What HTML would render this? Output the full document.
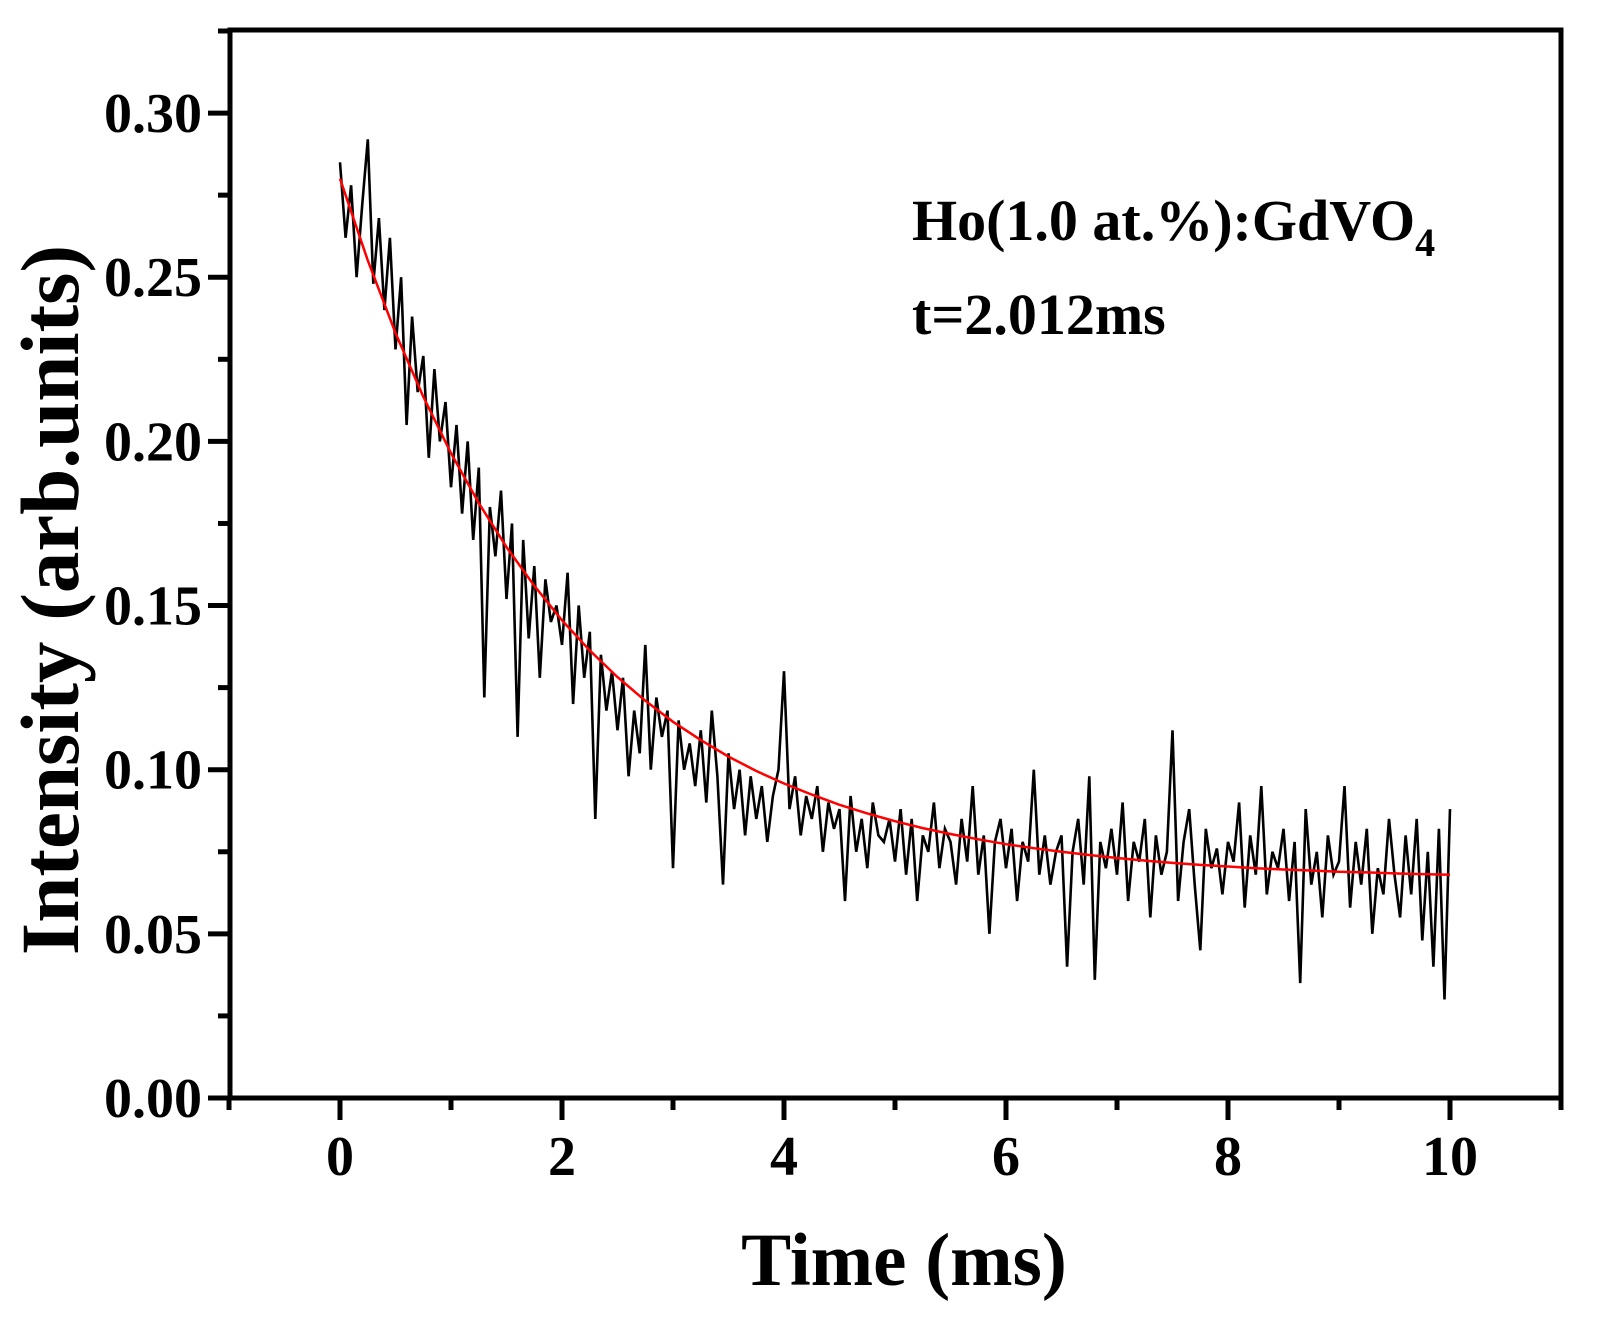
<!DOCTYPE html>
<html><head><meta charset="utf-8"><style>
html,body{margin:0;padding:0;background:#fff;}
svg text{font-family:"Liberation Serif",serif;font-weight:bold;fill:#000;}
</style></head><body>
<svg id="chart" width="1599" height="1316" viewBox="0 0 1599 1316" xmlns="http://www.w3.org/2000/svg">
<rect x="0" y="0" width="1599" height="1316" fill="#fff"/>
<g id="axes"></g>
<g id="series"></g>
<rect x="230" y="30" width="1331" height="1068" fill="none" stroke="#000" stroke-width="5"/>
<text x="904" y="1285" font-size="75" text-anchor="middle">Time (ms)</text>
<text transform="translate(78,600) rotate(-90)" font-size="83" text-anchor="middle">Intensity (arb.units)</text>
<text x="912" y="240" font-size="58">Ho(1.0 at.%):GdVO<tspan font-size="40" dy="16">4</tspan></text>
<text x="912" y="334" font-size="58">t=2.012ms</text>
</svg>
<script>
const xTicks=[0,2,4,6,8,10];
const yTicks=[0.00,0.05,0.10,0.15,0.20,0.25,0.30];
const yTickLabels=["0.00","0.05","0.10","0.15","0.20","0.25","0.30"];
const dataStep=0.05;
const dataValues=[
0.285,0.262,0.278,0.250,0.272,0.292,0.248,0.268,0.240,0.262,
0.228,0.250,0.205,0.238,0.215,0.226,0.195,0.222,0.200,0.212,
0.186,0.205,0.178,0.200,0.170,0.192,0.122,0.180,0.165,0.185,
0.152,0.175,0.110,0.170,0.140,0.162,0.128,0.158,0.145,0.150,
0.138,0.160,0.120,0.150,0.128,0.142,0.085,0.135,0.118,0.130,
0.112,0.128,0.098,0.118,0.105,0.138,0.100,0.122,0.110,0.118,
0.070,0.115,0.100,0.108,0.095,0.112,0.090,0.118,0.098,0.065,
0.105,0.088,0.100,0.080,0.098,0.085,0.095,0.078,0.092,0.100,
0.130,0.088,0.098,0.080,0.092,0.085,0.095,0.075,0.090,0.082,
0.088,0.060,0.092,0.075,0.085,0.070,0.090,0.080,0.078,0.085,
0.072,0.088,0.068,0.085,0.060,0.080,0.075,0.090,0.070,0.082,
0.078,0.065,0.085,0.072,0.095,0.068,0.080,0.050,0.078,0.085,
0.070,0.082,0.060,0.078,0.072,0.100,0.068,0.080,0.065,0.075,
0.080,0.040,0.075,0.085,0.065,0.098,0.036,0.078,0.070,0.082,
0.068,0.090,0.060,0.078,0.072,0.085,0.055,0.080,0.068,0.075,
0.112,0.060,0.078,0.088,0.065,0.045,0.082,0.070,0.076,0.062,
0.078,0.072,0.090,0.058,0.080,0.068,0.095,0.062,0.075,0.070,
0.082,0.060,0.078,0.035,0.088,0.065,0.075,0.055,0.080,0.068,
0.072,0.095,0.058,0.078,0.065,0.082,0.050,0.070,0.062,0.085,
0.068,0.055,0.080,0.062,0.085,0.048,0.075,0.040,0.082,0.030,
0.088];
const fitStep=0.25;
const fitValues=[0.2800,0.2551,0.2330,0.2136,0.1964,0.1812,0.1678,0.1560,0.1455,0.1363,0.1282,0.1210,0.1146,0.1090,0.1040,0.0996,0.0958,0.0924,0.0893,0.0867,0.0843,0.0822,0.0804,0.0788,0.0773,0.0761,0.0750,0.0740,0.0731,0.0723,0.0716,0.0710,0.0705,0.0700,0.0696,0.0693,0.0689,0.0687,0.0684,0.0682,0.0680];

const NS="http://www.w3.org/2000/svg";
const X0=229,X1=1561,XMIN=-1,XMAX=11;
const YB=1098,YT=30,YMIN=0,YMAX=0.3253;
function xs(v){return X0+(v-XMIN)/(XMAX-XMIN)*(X1-X0);}
function ys(v){return YB-(v-YMIN)/(YMAX-YMIN)*(YB-YT);}
const axes=document.getElementById('axes');
const series=document.getElementById('series');
function mk(tag,attrs,parent){const e=document.createElementNS(NS,tag);for(const k in attrs)e.setAttribute(k,attrs[k]);parent.appendChild(e);return e;}

for(let v=-1;v<=11;v++){
  const major=xTicks.includes(v);
  const t=mk('line',{x1:xs(v),x2:xs(v),y1:YB,y2:YB+(major?22:12),stroke:'#000','stroke-width':5},axes);
  
  
}
xTicks.forEach(v=>{
  const t=mk('text',{x:xs(v),y:1175,'font-size':56,'text-anchor':'middle'},axes);
  t.textContent=String(v);
  
  
});
for(let i=0;i<=13;i++){
  const v=i*0.025;
  const major=i%2===0;
  const t=mk('line',{x1:230-(major?22:12),x2:230,y1:ys(v),y2:ys(v),stroke:'#000','stroke-width':5},axes);
  
  
}
yTicks.forEach((v,i)=>{
  const t=mk('text',{x:202,y:ys(v)+19,'font-size':56,'text-anchor':'end'},axes);
  t.textContent=yTickLabels[i];
  
  
});
const dp=dataValues.map((v,i)=>xs(i*dataStep).toFixed(1)+','+ys(v).toFixed(1)).join(' ');
const dl=mk('polyline',{points:dp,fill:'none',stroke:'#000','stroke-width':2.6,'stroke-linejoin':'miter'},series);


const fp=fitValues.map((v,i)=>xs(i*fitStep).toFixed(1)+','+ys(v).toFixed(1)).join(' ');
const fl=mk('polyline',{points:fp,fill:'none',stroke:'#f00','stroke-width':2.5},series);


</script>
</body></html>
